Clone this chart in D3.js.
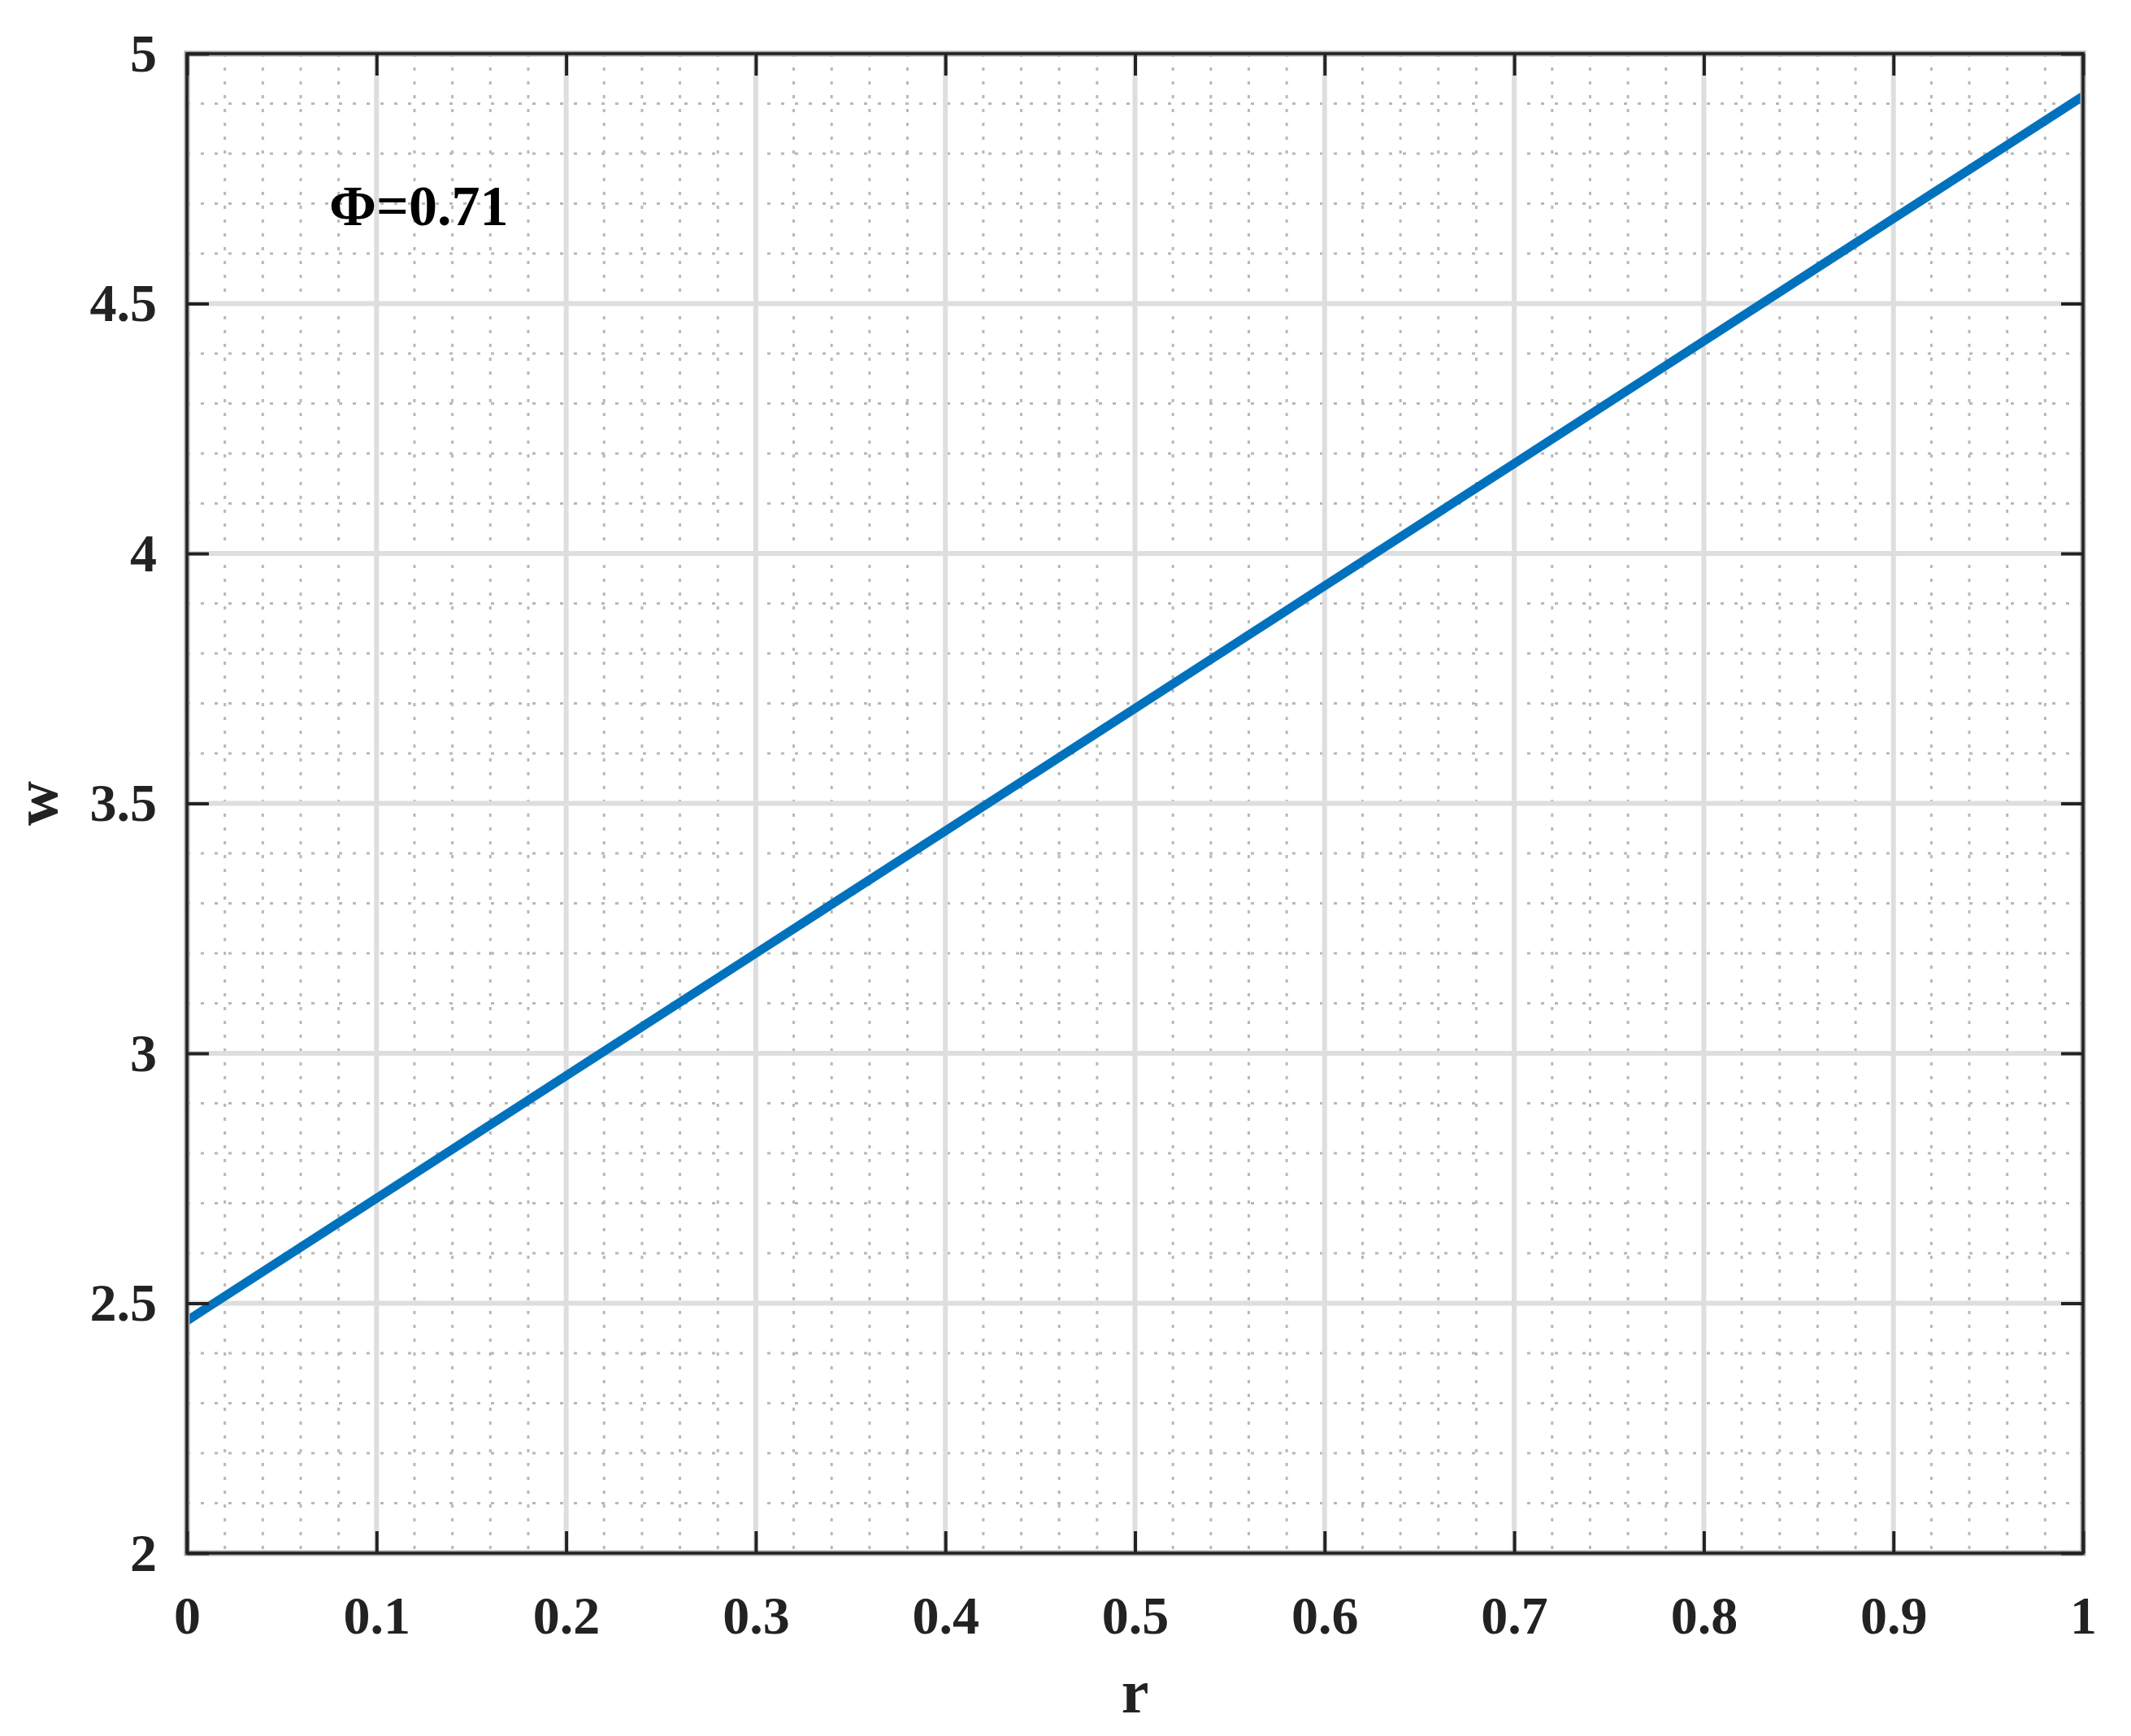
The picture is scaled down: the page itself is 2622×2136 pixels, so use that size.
<!DOCTYPE html>
<html>
<head>
<meta charset="utf-8">
<script src="https://cdn.jsdelivr.net/npm/d3@7/dist/d3.min.js"></script>
<style>
  html, body { margin: 0; padding: 0; background: #fff; }
  svg { display: block; }
</style>
</head>
<body>
<script>
// ---- data ----
const rValues = [0, 0.1, 0.2, 0.3, 0.4, 0.5, 0.6, 0.7, 0.8, 0.9, 1.0];
const wValues = [2.465, 2.71, 2.955, 3.20, 3.445, 3.69, 3.935, 4.18, 4.425, 4.67, 4.915];
const xTicks = [0, 0.1, 0.2, 0.3, 0.4, 0.5, 0.6, 0.7, 0.8, 0.9, 1];
const yTicks = [2, 2.5, 3, 3.5, 4, 4.5, 5];
const xLabel = "r";
const yLabel = "w";
const annotation = "Φ=0.71";

// ---- layout ----
const W = 2622, H = 2136;
const L = 230, R = 2563, T = 66, B = 1911;
const font = "'Liberation Serif', 'Times New Roman', serif";

const svg = d3.select("body").append("svg").attr("width", W).attr("height", H);

const x = d3.scaleLinear().domain([0, 1]).range([L, R]);
const y = d3.scaleLinear().domain([2, 5]).range([B, T]);

// minor grid (dotted)
const xMinor = d3.range(0, 1.0001, 0.02).filter(v => Math.abs(v * 10 - Math.round(v * 10)) > 1e-6);
const yMinor = d3.range(2, 5.0001, 0.1).filter(v => Math.abs(v * 2 - Math.round(v * 2)) > 1e-6);

const grid = svg.append("g");
grid.selectAll(".vminor").data(xMinor).enter().append("line")
  .attr("x1", d => x(d)).attr("x2", d => x(d)).attr("y1", T).attr("y2", B)
  .attr("stroke", "#b8b8b8").attr("stroke-width", 3).attr("stroke-dasharray", "4,13");
grid.selectAll(".hminor").data(yMinor).enter().append("line")
  .attr("y1", d => y(d)).attr("y2", d => y(d)).attr("x1", L).attr("x2", R)
  .attr("stroke", "#b8b8b8").attr("stroke-width", 3).attr("stroke-dasharray", "4,13");

// major grid
grid.selectAll(".vmajor").data(xTicks).enter().append("line")
  .attr("x1", d => x(d)).attr("x2", d => x(d)).attr("y1", T).attr("y2", B)
  .attr("stroke", "#dedede").attr("stroke-width", 6);
grid.selectAll(".hmajor").data(yTicks).enter().append("line")
  .attr("y1", d => y(d)).attr("y2", d => y(d)).attr("x1", L).attr("x2", R)
  .attr("stroke", "#dedede").attr("stroke-width", 6);

// data line
const line = d3.line().x((d, i) => x(rValues[i])).y(d => y(d));
svg.append("path").datum(wValues)
  .attr("d", line)
  .attr("fill", "none")
  .attr("stroke", "#0072BD")
  .attr("stroke-width", 11)
  .attr("stroke-linecap", "butt");

// frame
svg.append("rect").attr("x", L).attr("y", T).attr("width", R - L).attr("height", B - T)
  .attr("fill", "none").attr("stroke", "#aaaaaa").attr("stroke-width", 7);
svg.append("rect").attr("x", L).attr("y", T).attr("width", R - L).attr("height", B - T)
  .attr("fill", "none").attr("stroke", "#222").attr("stroke-width", 3.5);

// axes with inward ticks
const tickLen = 27;
const fmt = d => d3.format("")(+d.toFixed(1));

const xAxisB = svg.append("g").attr("transform", `translate(0,${B})`)
  .call(d3.axisBottom(x).tickValues(xTicks).tickSizeInner(-tickLen).tickSizeOuter(0).tickPadding(52).tickFormat(fmt));
const xAxisT = svg.append("g").attr("transform", `translate(0,${T})`)
  .call(d3.axisTop(x).tickValues(xTicks).tickSizeInner(-tickLen).tickSizeOuter(0).tickFormat(""));
const yAxisL = svg.append("g").attr("transform", `translate(${L},0)`)
  .call(d3.axisLeft(y).tickValues(yTicks).tickSizeInner(-tickLen).tickSizeOuter(0).tickPadding(37).tickFormat(fmt));
const yAxisR = svg.append("g").attr("transform", `translate(${R},0)`)
  .call(d3.axisRight(y).tickValues(yTicks).tickSizeInner(-tickLen).tickSizeOuter(0).tickFormat(""));

[xAxisB, xAxisT, yAxisL, yAxisR].forEach(g => {
  g.select(".domain").remove();
  g.selectAll(".tick line").attr("stroke", "#222").attr("stroke-width", 4);
  g.selectAll(".tick text")
    .attr("font-family", font).attr("font-size", 66).attr("font-weight", "bold").attr("fill", "#222");
});

// axis labels
svg.append("text").attr("x", (L + R) / 2).attr("y", 2107)
  .attr("text-anchor", "middle").attr("font-family", font).attr("font-size", 76)
  .attr("font-weight", "bold").attr("fill", "#222").text(xLabel);
svg.append("text").attr("transform", `translate(70,${(T + B) / 2}) rotate(-90)`)
  .attr("text-anchor", "middle").attr("font-family", font).attr("font-size", 76)
  .attr("font-weight", "bold").attr("fill", "#222").text(yLabel);

// annotation
svg.append("text").attr("x", 405).attr("y", 277)
  .attr("font-family", font).attr("font-size", 70)
  .attr("font-weight", "bold").attr("fill", "#000").text(annotation);
</script>
</body>
</html>
